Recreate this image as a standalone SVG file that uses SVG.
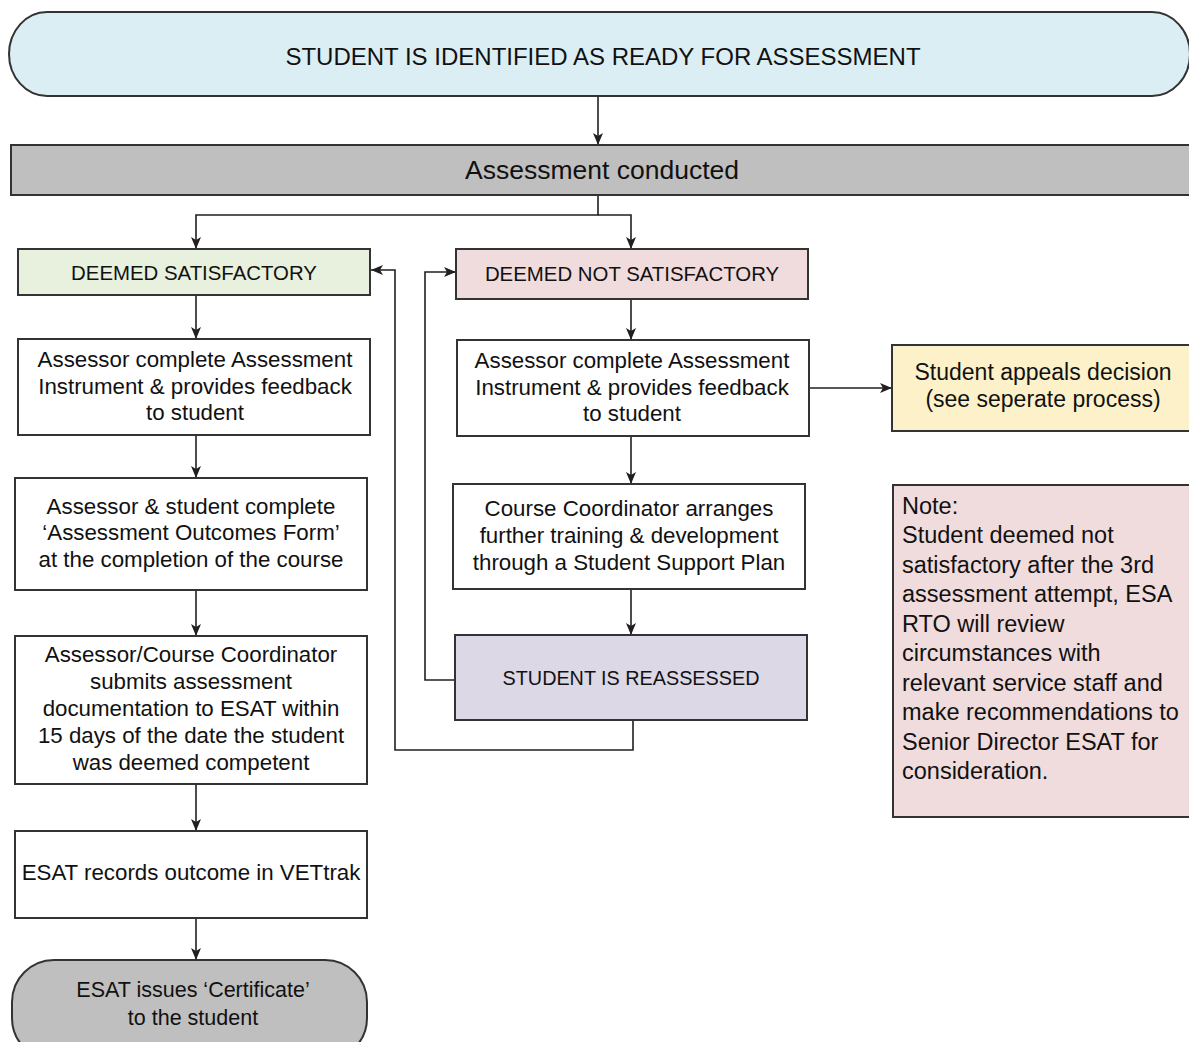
<svg xmlns="http://www.w3.org/2000/svg" width="1189" height="1042" viewBox="0 0 1189 1042">
<style>
.box{stroke:#333;stroke-width:2}
.w{fill:#fff}
.t{font-family:"Liberation Sans",Arial,sans-serif;font-size:22.3px;fill:#111;text-anchor:middle}
.cap{font-size:20.4px}
.tl{font-family:"Liberation Sans",Arial,sans-serif;font-size:23.5px;fill:#111}
.c{fill:none;stroke:#231f20;stroke-width:1.6}
</style>
<defs>
<marker id="a" viewBox="0 0 12 10" refX="12" refY="5" markerWidth="12" markerHeight="10" markerUnits="userSpaceOnUse" orient="auto">
<path d="M0,0 L12,5 L0,10 L3,5 Z" fill="#231f20"/>
</marker>
</defs>
<rect width="1189" height="1042" fill="#fff"/>
<g id="connectors">
<path class="c" d="M598,96 V145" marker-end="url(#a)"/>
<path class="c" d="M598,195 V215 H196 V249" marker-end="url(#a)"/>
<path class="c" d="M598,215 H631 V249" marker-end="url(#a)"/>
<path class="c" d="M196,295 V339" marker-end="url(#a)"/>
<path class="c" d="M196,435 V478" marker-end="url(#a)"/>
<path class="c" d="M196,590 V636" marker-end="url(#a)"/>
<path class="c" d="M196,784 V831" marker-end="url(#a)"/>
<path class="c" d="M196,918 V960" marker-end="url(#a)"/>
<path class="c" d="M631,299 V340" marker-end="url(#a)"/>
<path class="c" d="M809,388 H892" marker-end="url(#a)"/>
<path class="c" d="M631,436 V484" marker-end="url(#a)"/>
<path class="c" d="M631,589 V635" marker-end="url(#a)"/>
<path class="c" d="M455,680 H425 V272 H456" marker-end="url(#a)"/>
<path class="c" d="M633,720 V750 H395 V270 H371" marker-end="url(#a)"/>
</g>
<g id="start">
<rect class="box" x="9" y="12" width="1181" height="84" rx="38" ry="42" fill="#dbeef4"/>
<text class="t" x="603" y="65" style="font-size:24px">STUDENT IS IDENTIFIED AS READY FOR ASSESSMENT</text>
</g>
<g id="conducted">
<rect class="box" x="11" y="145" width="1190" height="50" fill="#bfbfbf"/>
<text class="t" x="602" y="179" style="font-size:26.5px">Assessment conducted</text>
</g>
<g id="satisfactory">
<rect class="box" x="18" y="249" width="352" height="46" fill="#e8f0de"/>
<text class="t cap" x="194" y="280">DEEMED SATISFACTORY</text>
</g>
<g id="not-satisfactory">
<rect class="box" x="456" y="249" width="352" height="50" fill="#f0dcdc"/>
<text class="t cap" x="632" y="281">DEEMED NOT SATISFACTORY</text>
</g>
<g id="a1">
<rect class="box w" x="18" y="339" width="352" height="96"/>
<text class="t" x="195" y="367">Assessor complete Assessment</text>
<text class="t" x="195" y="394">Instrument &amp; provides feedback</text>
<text class="t" x="195" y="420">to student</text>
</g>
<g id="a2">
<rect class="box w" x="15" y="478" width="352" height="112"/>
<text class="t" x="191" y="514">Assessor &amp; student complete</text>
<text class="t" x="191" y="540">‘Assessment Outcomes Form’</text>
<text class="t" x="191" y="567">at the completion of the course</text>
</g>
<g id="a3">
<rect class="box w" x="15" y="636" width="352" height="148"/>
<text class="t" x="191" y="662">Assessor/Course Coordinator</text>
<text class="t" x="191" y="689">submits assessment</text>
<text class="t" x="191" y="716">documentation to ESAT within</text>
<text class="t" x="191" y="743">15 days of the date the student</text>
<text class="t" x="191" y="770">was deemed competent</text>
</g>
<g id="a4">
<rect class="box w" x="15" y="831" width="352" height="87"/>
<text class="t" x="191" y="880">ESAT records outcome in VETtrak</text>
</g>
<g id="certificate">
<rect class="box" x="12" y="960" width="355" height="100" rx="42" ry="42" fill="#bfbfbf"/>
<text class="t" x="193" y="997" style="font-size:21.5px">ESAT issues ‘Certificate’</text>
<text class="t" x="193" y="1025" style="font-size:21.5px">to the student</text>
</g>
<g id="b1">
<rect class="box w" x="457" y="340" width="352" height="96"/>
<text class="t" x="632" y="368">Assessor complete Assessment</text>
<text class="t" x="632" y="395">Instrument &amp; provides feedback</text>
<text class="t" x="632" y="421">to student</text>
</g>
<g id="appeal">
<rect class="box" x="892" y="345" width="310" height="86" fill="#fdf1c9"/>
<text class="t" x="1043" y="380" style="font-size:23px">Student appeals decision</text>
<text class="t" x="1043" y="407" style="font-size:23px">(see seperate process)</text>
</g>
<g id="b2">
<rect class="box w" x="453" y="484" width="352" height="105"/>
<text class="t" x="629" y="516">Course Coordinator arranges</text>
<text class="t" x="629" y="543">further training &amp; development</text>
<text class="t" x="629" y="570">through a Student Support Plan</text>
</g>
<g id="reassessed">
<rect class="box" x="455" y="635" width="352" height="85" fill="#ddd8e6"/>
<text class="t cap" x="631" y="685" style="font-size:19.8px">STUDENT IS REASSESSED</text>
</g>
<g id="note">
<rect class="box" x="893" y="485" width="310" height="332" fill="#f0dcdc"/>
<text class="tl" x="902" y="514">Note:</text>
<text class="tl" x="902" y="543">Student deemed not</text>
<text class="tl" x="902" y="573">satisfactory after the 3rd</text>
<text class="tl" x="902" y="602">assessment attempt, ESA</text>
<text class="tl" x="902" y="632">RTO will review</text>
<text class="tl" x="902" y="661">circumstances with</text>
<text class="tl" x="902" y="691">relevant service staff and</text>
<text class="tl" x="902" y="720">make recommendations to</text>
<text class="tl" x="902" y="750">Senior Director ESAT for</text>
<text class="tl" x="902" y="779">consideration.</text>
</g>
</svg>
